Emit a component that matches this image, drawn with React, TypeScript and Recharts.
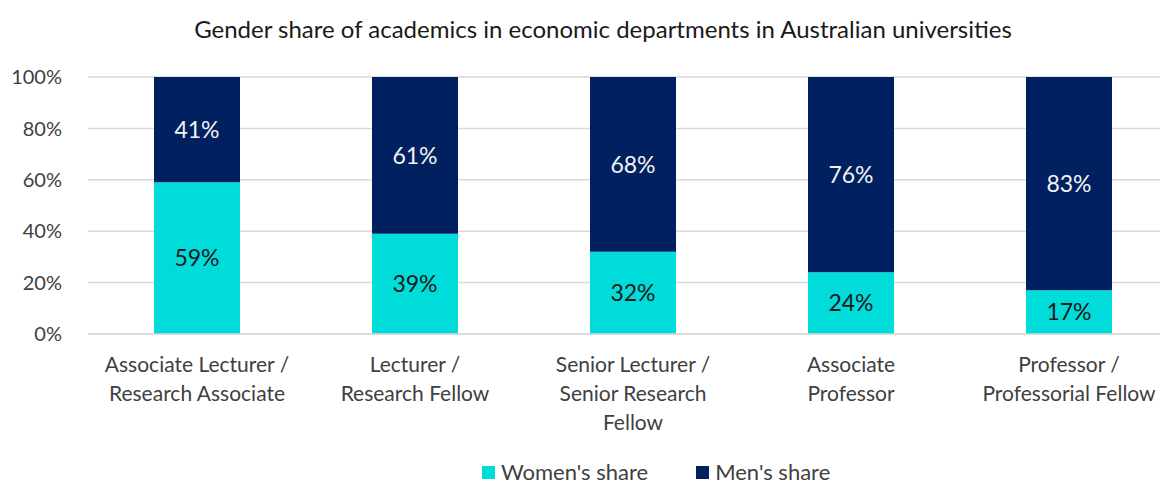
import React from 'react';
import { BarChart, Bar, XAxis, YAxis, CartesianGrid, Legend, LabelList } from 'recharts';

const categories = [
    'Associate Lecturer / Research Associate',
    'Lecturer / Research Fellow',
    'Senior Lecturer / Senior Research Fellow',
    'Associate Professor',
    'Professor / Professorial Fellow',
];
const tickLines = [
    ['Associate Lecturer /', 'Research Associate'],
    ['Lecturer /', 'Research Fellow'],
    ['Senior Lecturer /', 'Senior Research', 'Fellow'],
    ['Associate', 'Professor'],
    ['Professor /', 'Professorial Fellow'],
];
const womenShare = [59, 39, 32, 24, 17];
const menShare = [41, 61, 68, 76, 83];
const yTicks = [0, 20, 40, 60, 80, 100];

const TEAL = '#00DCDA';
const NAVY = '#002060';
const FONT = 'Lato, "Open Sans", sans-serif';

const data = categories.map((name, i) => ({
    name,
    women: womenShare[i],
    men: menShare[i],
}));

function CategoryTick({ x, y, payload }: any) {
    const lines = tickLines[payload.index] || [payload.value];
    return (
        <text x={x} y={y} textAnchor="middle" fill="#404040" fontSize={21} fontFamily={FONT}>
            {lines.map((l: string, i: number) => (
                <tspan key={i} x={x} dy={i === 0 ? 30 : 29}>{l}</tspan>
            ))}
        </text>
    );
}

function LegendContent() {
    const items = [
        { label: "Women's share", color: TEAL },
        { label: "Men's share", color: NAVY },
    ];
    return (
        <div style={{ display: 'flex', gap: 48, fontFamily: FONT, fontSize: 22, lineHeight: '24px', color: '#404040' }}>
            {items.map((it) => (
                <div key={it.label} style={{ display: 'flex', alignItems: 'center' }}>
                    <div style={{ width: 13, height: 13, background: it.color, marginRight: 6 }} />
                    <span>{it.label}</span>
                </div>
            ))}
        </div>
    );
}

export default function App() {
    return (
        <div style={{ position: 'absolute', left: 0, top: 0, width: 1160, height: 486, overflow: 'hidden', background: '#fff' }}>
            <div style={{ position: 'absolute', left: 0, width: 1206, top: 14, textAlign: 'center', fontFamily: FONT, fontSize: 24, color: '#1a1a1a' }}>
                Gender share of academics in economic departments in Australian universities
            </div>
            <BarChart
                width={1180}
                height={486}
                data={data}
                margin={{ top: 77, right: 2, left: 0, bottom: 0 }}
                barSize={86}
            >
                <CartesianGrid vertical={false} stroke="#d9d9d9" strokeWidth={1.5} />
                <XAxis
                    dataKey="name"
                    interval={0}
                    tickLine={false}
                    axisLine={{ stroke: '#d9d9d9', strokeWidth: 1.5 }}
                    tick={<CategoryTick />}
                    height={110}
                />
                <YAxis
                    domain={[0, 100]}
                    ticks={yTicks}
                    width={88}
                    tickLine={false}
                    axisLine={false}
                    tickFormatter={(v: number) => `${v}%`}
                    tick={{ fill: '#404040', fontSize: 20, fontFamily: FONT }}
                    tickMargin={20}
                />
                <Legend
                    verticalAlign="bottom"
                    height={42}
                    content={<LegendContent />}
                    wrapperStyle={{ left: 482, width: 420, top: 460 }}
                />
                <Bar dataKey="women" stackId="a" fill={TEAL} isAnimationActive={false}>
                    <LabelList dataKey="women" position="center" formatter={(v: any) => `${v}%`} fill="#1a1a1a" fontSize={23} fontFamily={FONT} />
                </Bar>
                <Bar dataKey="men" stackId="a" fill={NAVY} isAnimationActive={false}>
                    <LabelList dataKey="men" position="center" formatter={(v: any) => `${v}%`} fill="#f2f2f2" fontSize={23} fontFamily={FONT} />
                </Bar>
            </BarChart>
        </div>
    );
}
